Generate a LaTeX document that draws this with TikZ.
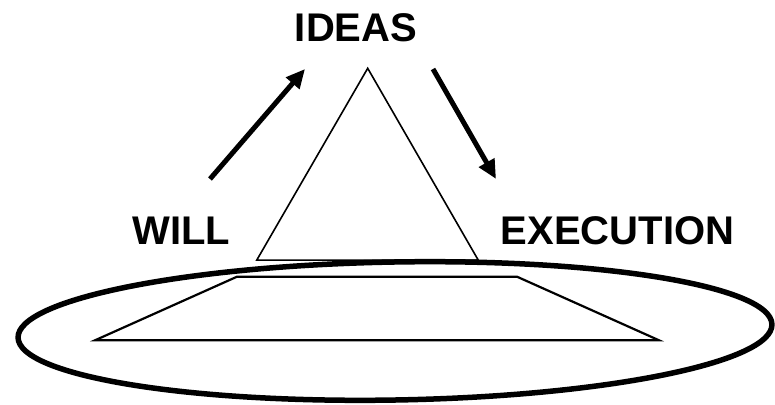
\documentclass[tikz,border=0pt]{standalone}
\usepackage{fontspec}
\setmainfont{Liberation Sans}
\usetikzlibrary{arrows.meta,calc,positioning}

\begin{document}
\begin{tikzpicture}[x=1pt,y=1pt,
    every node/.style={font=\fontsize{40}{48}\selectfont\bfseries,inner sep=0pt,anchor=base},
    thinline/.style={line width=1.6pt,line join=miter},
    bigarrow/.style={-{Triangle[length=19pt,width=17pt]},line width=5pt}]
    \useasboundingbox (0,0) rectangle (775,404);
    % labels
    \node (ideas) at (356,362) {IDEAS};
    \node (will) at (181.5,159) {WILL};
    \node (execution) at (617.5,159) {EXECUTION};
    % arrow ends
    \coordinate (upstart) at (210,225);
    \coordinate (upend) at (305,335);
    \coordinate (downstart) at (433,335);
    \coordinate (downend) at (496,225);
    \draw[bigarrow] (upstart) -- (upend);
    \draw[bigarrow] (downstart) -- (downend);
    % triangle and trapezoid
    \coordinate (apex) at (367.7,335.7);
    \coordinate (tl) at (256.7,143.8);
    \coordinate (tr) at (478.3,143.8);
    \draw[thinline] (apex) -- (tr) -- (tl) -- cycle;
    \draw[thinline,line width=2.2pt] (237,127.3) -- (517,127.3) -- (659,63.7) -- (95,63.7) -- cycle;
    % ring
    \draw[line width=5.5pt,rotate around={1:(395,73)}] (395,73) ellipse [x radius=377,y radius=69];
  \end{tikzpicture}
\end{document}
